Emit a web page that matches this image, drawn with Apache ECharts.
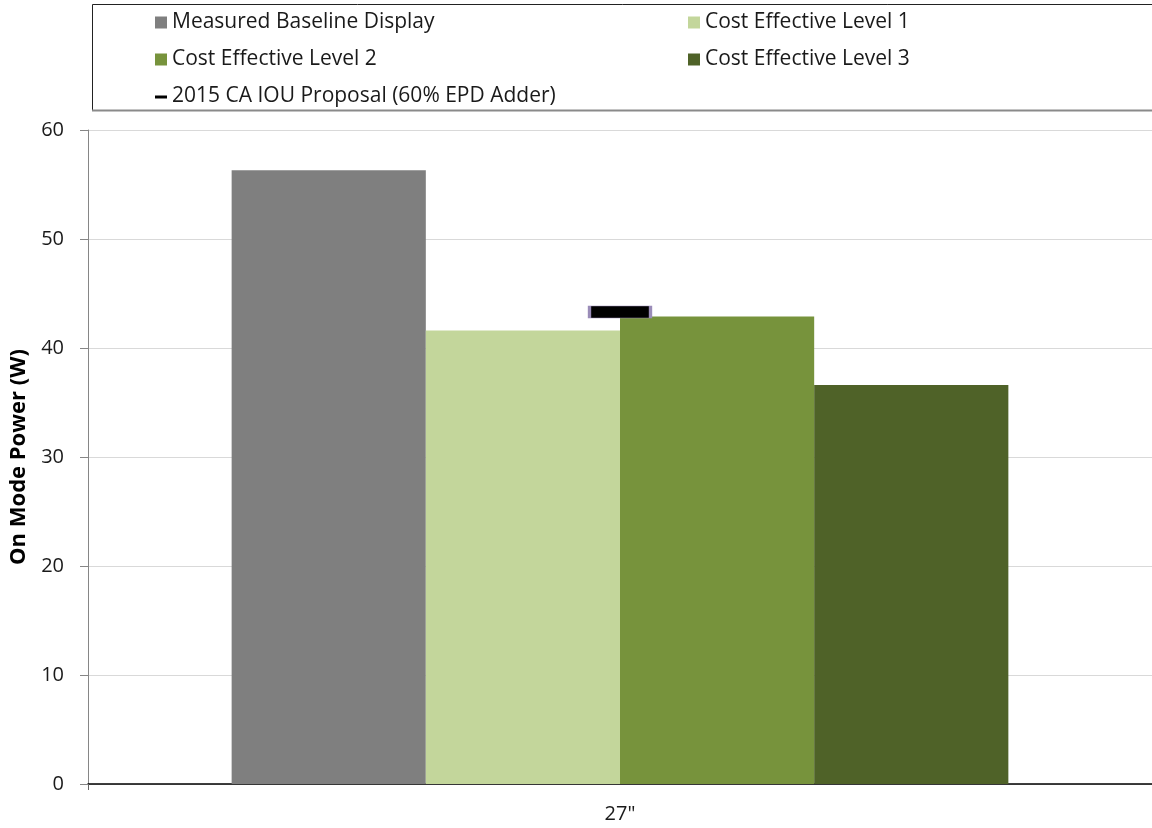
<!DOCTYPE html>
<html><head><meta charset="utf-8">
<script src="https://cdn.jsdelivr.net/npm/echarts@6/dist/echarts.min.js"></script>
<style>html,body{margin:0;padding:0;background:#fff}#c{width:1152px;height:828px}</style>
</head><body><div id="c"></div>
<script>
const categories = ['27"'];
const baseline = [56.3];
const level1 = [41.6];
const level2 = [42.9];
const level3 = [36.6];
const proposal = [43.3];
const yTicks = [0, 10, 20, 30, 40, 50, 60];

const FONT = '"Open Sans", "Noto Sans", sans-serif';
const chart = echarts.init(document.getElementById('c'));
const barSeries = (name, data, color) => ({
  name, type: 'bar', data, barGap: '0%', barCategoryGap: '27%',
  itemStyle: { color }, emphasis: { disabled: true }
});
const legendCommon = {
  orient: 'vertical', itemWidth: 12, itemHeight: 12, itemGap: 16, icon: 'rect',
  textStyle: { fontFamily: FONT, fontSize: 21, color: '#1a1a1a', padding: [0, 0, 0, 0] },
  selectedMode: false
};
chart.setOption({
  animation: false,
  grid: { left: 88, right: 0, top: 130, bottom: 44, outerBoundsMode: 'none', containLabel: false },
  graphic: [
    { type: 'rect', shape: { x: 92.5, y: 4.5, width: 1070, height: 106 }, style: { fill: 'none', stroke: '#222', lineWidth: 1 } },
    { type: 'line', shape: { x1: 92, y1: 110.5, x2: 1152, y2: 110.5 }, style: { stroke: '#8a8a8a', lineWidth: 2 } }
  ],
  legend: [
    Object.assign({}, legendCommon, {
      left: 150, top: 7,
      data: [
        { name: 'Measured Baseline Display' },
        { name: 'Cost Effective Level 2' },
        { name: '2015 CA IOU Proposal (60% EPD Adder)', icon: 'path://M0,0M0,12M0,5h12v3h-12z', itemStyle: { color: '#000', borderWidth: 0 } }
      ]
    }),
    Object.assign({}, legendCommon, {
      left: 683, top: 7,
      data: [{ name: 'Cost Effective Level 1' }, { name: 'Cost Effective Level 3' }]
    })
  ],
  xAxis: {
    type: 'category', data: categories,
    axisLine: { lineStyle: { color: '#000', width: 1.5 } },
    axisTick: { show: true, length: 6, lineStyle: { color: '#666' } },
    axisLabel: { fontFamily: FONT, fontSize: 20, color: '#1a1a1a', margin: 20 }
  },
  yAxis: {
    type: 'value', min: 0, max: 60, interval: 10,
    name: 'On Mode Power (W)', nameLocation: 'middle', nameGap: 58,
    nameTextStyle: { fontFamily: FONT, fontSize: 22, fontWeight: 'bold', color: '#000' },
    axisLine: { show: true, lineStyle: { color: '#868686' } },
    axisTick: { show: true, length: 8, lineStyle: { color: '#868686' } },
    axisLabel: { fontFamily: FONT, fontSize: 20, color: '#1a1a1a', margin: 24,
      formatter: v => yTicks.includes(v) ? String(v) : '' },
    splitLine: { lineStyle: { color: '#d9d9d9' } }
  },
  series: [
    barSeries('Measured Baseline Display', baseline, '#7f7f7f'),
    barSeries('Cost Effective Level 1', level1, '#c3d69b'),
    barSeries('Cost Effective Level 2', level2, '#77933c'),
    barSeries('Cost Effective Level 3', level3, '#4f6228'),
    {
      name: '2015 CA IOU Proposal (60% EPD Adder)', type: 'scatter', data: proposal,
      symbol: 'rect', symbolSize: [61, 12], z: 5,
      itemStyle: { color: '#000', borderColor: '#9a8cb8', borderWidth: 1.5, opacity: 1 },
      emphasis: { disabled: true }
    }
  ]
});
</script></body></html>
